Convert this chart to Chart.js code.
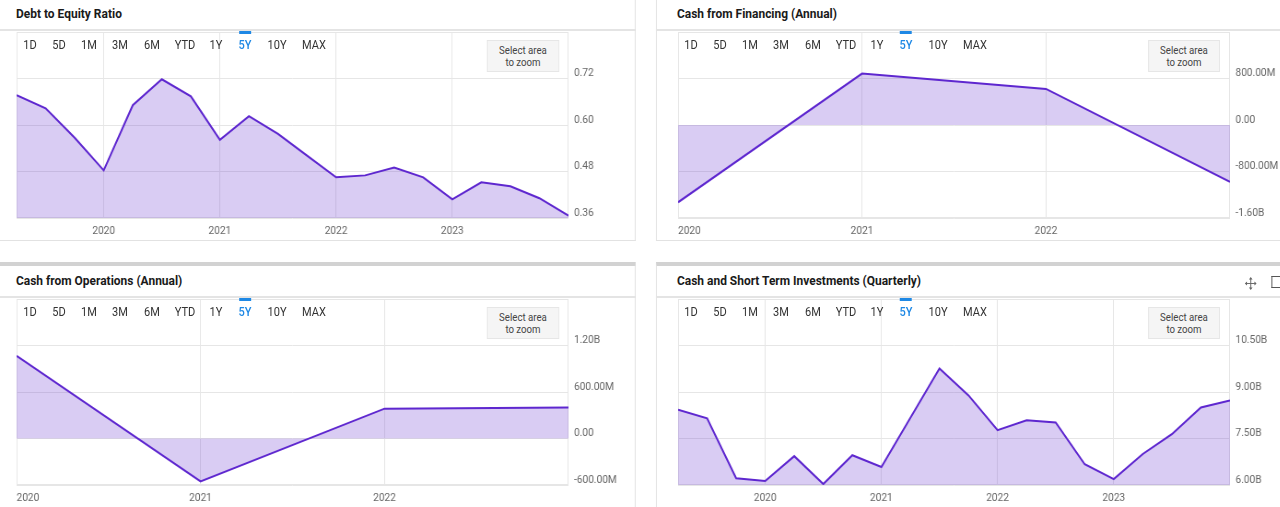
<!DOCTYPE html>
<html>
<head>
<meta charset="utf-8">
<script src="https://cdn.jsdelivr.net/npm/chart.js@4/dist/chart.umd.min.js"></script>
<style>
html, body { margin:0; padding:0; width:1280px; height:507px; overflow:hidden; background:#fff; font-family:Roboto, sans-serif; }
#page { position:absolute; left:0; top:0; width:1500px; height:507px; transform:scaleX(0.92); transform-origin:0 0; }
.panel { position:absolute; box-sizing:border-box; border:1px solid #e2e2e2; border-top:4px solid #d2d2d2; background:#fff; }
.title { position:absolute; font-weight:bold; font-size:13px; line-height:16px; color:#1a1a1a; white-space:nowrap; }
.sep { position:absolute; height:2px; background:#e4e4e4; }
.chart_box { position:absolute; }
.btn { position:absolute; font-size:12px; line-height:14px; color:#333; white-space:nowrap; transform:translateX(-50%); }
.btn.on { color:#1e88e5; font-weight:500; }
.bar { position:absolute; height:3px; background:#1e88e5; }
.zoom_box { position:absolute; box-sizing:border-box; background:#f5f5f5; border:1px solid #e6e6e6; font-size:10.5px; line-height:12px; color:#444; text-align:center; padding-top:4px; }
.icon { position:absolute; }
</style>
</head>
<body>
<div id="page"></div>
<script>
// quarterly and annual points
const quarterDates = ['2019-04','2019-07','2019-10','2020-01','2020-04','2020-07','2020-10','2021-01','2021-04','2021-07',
	'2021-10','2022-01','2022-04','2022-07','2022-10','2023-01','2023-04','2023-07','2023-10','2024-01'];
const annualDates = ['2020-01','2021-01','2022-01','2023-01'];

const debtRatio = [0.677, 0.643, 0.567, 0.483, 0.651, 0.718, 0.674, 0.562, 0.623, 0.577,
	0.521, 0.465, 0.470, 0.490, 0.465, 0.408, 0.452, 0.442, 0.411, 0.366];
const financing = [-1.33, 0.885, 0.62, -0.98];          // billions
const operations = [1.066, -0.553, 0.385, 0.40];        // billions
const cashInvest = [8.43, 8.15, 6.22, 6.13, 6.93, 6.03, 6.96, 6.58, 8.17, 9.76,
	8.89, 7.77, 8.09, 8.02, 6.67, 6.19, 7.0, 7.64, 8.5, 8.73];   // billions

const yearTicks = [2020, 2021, 2022, 2023];
const quarterRange = [2019.25, 2024];
const annualRange = [2020, 2023];

const debtTicks = [0.36, 0.48, 0.60, 0.72];
const debtRange = [0.36, 0.84];
const financingTicks = [-1.6, -0.8, 0, 0.8];
const financingRange = [-1.6, 1.6];
const operationsTicks = [-0.6, 0, 0.6, 1.2];
const operationsRange = [-0.6, 1.8];
const cashTicks = [6, 7.5, 9, 10.5];
const cashRange = [6, 12];

const rangeButtons = ['1D','5D','1M','3M','6M','YTD','1Y','5Y','10Y','MAX'];

const S = 0.92;
const LINE = '#5e27cf';
const FILL = 'rgba(108, 58, 208, 0.26)';
const GRID = '#e6e6e6';
const X_AXIS_H = 22;
const Y_AXIS_W = 68;
const btnOffsets = [14, 43, 73, 104, 136, 169, 200, 229, 261, 298];

Chart.defaults.font.family = 'Roboto';
Chart.defaults.font.size = 11;

function u(x){ return x / S; }
function to_year(s){
	let [y, m] = s.split('-').map(Number);
	return y + (m - 1) / 12;
}
function ratio(v){ return v.toFixed(2); }
function money(v){
	if (Math.abs(v) < 1e-9) return '0.00';
	if (Math.abs(v) >= 1) return v.toFixed(2) + 'B';
	return (v * 1000).toFixed(2) + 'M';
}

let plot_frame = {
	id: 'plot_frame',
	beforeDatasetsDraw(chart){
		let a = chart.chartArea, ctx = chart.ctx;
		ctx.save();
		ctx.strokeStyle = GRID;
		ctx.lineWidth = 1;
		ctx.strokeRect(Math.round(a.left) + 0.5, Math.round(a.top) + 0.5,
			Math.round(a.right - a.left) - 1, Math.round(a.bottom - a.top) - 1);
		ctx.restore();
	}
};

let panels = [
	{ title: 'Debt to Equity Ratio', left: true, top: 0, dates: quarterDates, values: debtRatio,
		xRange: quarterRange, annual: false, yTicks: debtTicks, yRange: debtRange, fmt: ratio },
	{ title: 'Cash from Financing (Annual)', left: false, top: 0, dates: annualDates, values: financing,
		xRange: annualRange, annual: true, yTicks: financingTicks, yRange: financingRange, fmt: money },
	{ title: 'Cash from Operations (Annual)', left: true, top: 267, dates: annualDates, values: operations,
		xRange: annualRange, annual: true, yTicks: operationsTicks, yRange: operationsRange, fmt: money },
	{ title: 'Cash and Short Term Investments (Quarterly)', left: false, top: 267, dates: quarterDates, values: cashInvest,
		xRange: quarterRange, annual: false, yTicks: cashTicks, yRange: cashRange, fmt: money, icons: true }
];

const moveIcon = '<svg width="13" height="13" viewBox="0 0 13 13" fill="#666" stroke="#666" stroke-width="1">' +
	'<line x1="6.5" y1="2" x2="6.5" y2="11"/><line x1="2" y1="6.5" x2="11" y2="6.5"/>' +
	'<path d="M6.5 0 L4.5 2.5 L8.5 2.5Z M6.5 13 L4.5 10.5 L8.5 10.5Z M0 6.5 L2.5 4.5 L2.5 8.5Z M13 6.5 L10.5 4.5 L10.5 8.5Z" stroke="none"/></svg>';

function el(cls, css, text){
	let d = document.createElement('div');
	d.className = cls;
	Object.assign(d.style, css);
	if (text) d.innerHTML = text;
	document.getElementById('page').appendChild(d);
	return d;
}

function make_panel(p){
	let dy = p.top;
	let boxL = p.left ? -20 : 656, boxR = p.left ? 636 : 1320;
	let plot = { l: p.left ? 16 : 677, r: p.left ? 568 : 1229, t: 31 + dy, b: 218 + dy };

	el('panel', { left: u(boxL) + 'px', width: u(boxR - boxL) + 'px', top: (dy - 5) + 'px', height: (dy ? 260 : 246) + 'px' });
	el('sep', { left: u(boxL) + 'px', width: u(boxR - boxL) + 'px', top: (29 + dy) + 'px' });
	el('title', { left: u(plot.l) + 'px', top: (6 + dy) + 'px' }, p.title);

	let box = el('chart_box', { left: u(plot.l) + 'px', top: plot.t + 'px',
		width: u(plot.r - plot.l + Y_AXIS_W) + 'px', height: (plot.b - plot.t + X_AXIS_H) + 'px' });
	let canvas = document.createElement('canvas');
	box.appendChild(canvas);

	rangeButtons.forEach((b, i) => {
		el('btn' + (b === '5Y' ? ' on' : ''), { left: u(plot.l + btnOffsets[i]) + 'px', top: (38 + dy) + 'px' }, b);
	});
	el('bar', { left: u(plot.l + 223) + 'px', width: u(12) + 'px', top: (31 + dy) + 'px' });
	el('zoom_box', { left: u(plot.r - 81) + 'px', width: u(72) + 'px', top: (40 + dy) + 'px', height: '32px' },
		'Select area<br>to zoom');
	if (p.icons) {
		el('icon', { left: u(1245) + 'px', top: (275 + dy - 267) + 'px' }, moveIcon);
		el('icon', { left: u(1271) + 'px', top: (276 + dy - 267) + 'px', width: u(10) + 'px', height: '12px',
			border: '1.5px solid #555', borderRight: 'none', boxSizing: 'border-box' });
	}

	new Chart(canvas, {
		type: 'line',
		data: {
			datasets: [{
				data: p.dates.map((d, i) => ({ x: to_year(d), y: p.values[i] })),
				borderColor: LINE,
				backgroundColor: FILL,
				borderWidth: 2,
				pointRadius: 0,
				tension: 0,
				fill: 'origin'
			}]
		},
		options: {
			responsive: true,
			maintainAspectRatio: false,
			animation: false,
			devicePixelRatio: 1,
			events: [],
			layout: { padding: 0 },
			plugins: { legend: { display: false }, tooltip: { enabled: false } },
			scales: {
				x: {
					type: 'linear', min: p.xRange[0], max: p.xRange[1],
					afterBuildTicks: a => { a.ticks = yearTicks.map(v => ({ value: v })); },
					afterFit: a => { a.height = X_AXIS_H; a.paddingLeft = 0; a.paddingRight = 0; },
					grid: { color: GRID, drawTicks: false },
					border: { display: false },
					ticks: {
						color: '#666', padding: 7, maxRotation: 0, autoSkip: false,
						align: p.annual ? 'inner' : 'center',
						callback: v => (p.annual && v === p.xRange[1]) ? '' : String(v)
					}
				},
				y: {
					type: 'linear', position: 'right', min: p.yRange[0], max: p.yRange[1],
					afterBuildTicks: a => { a.ticks = p.yTicks.map(v => ({ value: v })); },
					afterFit: a => { a.width = u(Y_AXIS_W); a.paddingTop = 0; a.paddingBottom = 0; },
					grid: { color: GRID, drawTicks: false },
					border: { display: false },
					ticks: { color: '#666', padding: 6, labelOffset: -5, callback: v => p.fmt(v) }
				}
			}
		},
		plugins: [plot_frame]
	});
}

panels.forEach(make_panel);
</script>
</body>
</html>
